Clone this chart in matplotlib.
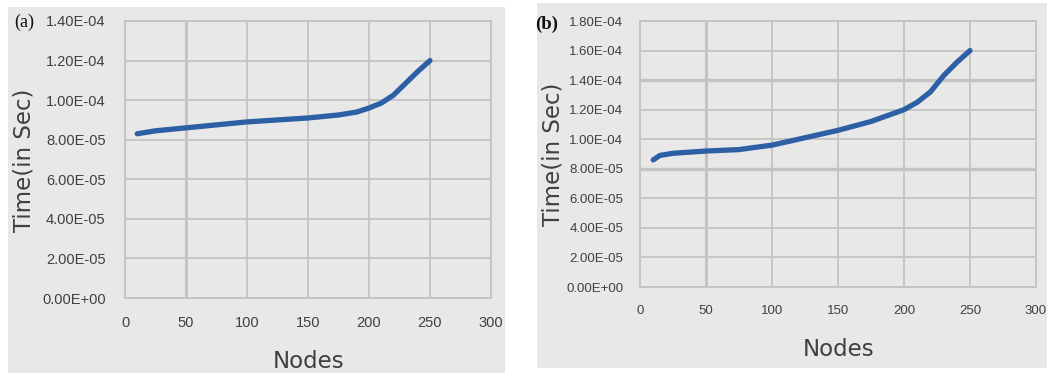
import matplotlib.pyplot as plt
from matplotlib.patches import Rectangle
from matplotlib.ticker import FuncFormatter

# panel (a)
nodes_a = [10, 25, 50, 75, 100, 125, 150, 175, 190, 200, 210, 220, 230, 240, 250]
time_a = [8.30e-05, 8.45e-05, 8.60e-05, 8.75e-05, 8.90e-05, 9.00e-05, 9.10e-05, 9.25e-05,
          9.40e-05, 9.60e-05, 9.85e-05, 1.025e-04, 1.085e-04, 1.145e-04, 1.20e-04]

# panel (b)
nodes_b = [10, 15, 25, 50, 75, 100, 125, 150, 175, 200, 210, 220, 230, 240, 250]
time_b = [8.60e-05, 8.90e-05, 9.05e-05, 9.20e-05, 9.30e-05, 9.60e-05, 1.01e-04, 1.06e-04,
          1.12e-04, 1.20e-04, 1.25e-04, 1.32e-04, 1.43e-04, 1.52e-04, 1.60e-04]

x_ticks = [0, 50, 100, 150, 200, 250, 300]
y_ticks_a = [0, 2e-05, 4e-05, 6e-05, 8e-05, 1.0e-04, 1.2e-04, 1.4e-04]
y_ticks_b = [0, 2e-05, 4e-05, 6e-05, 8e-05, 1.0e-04, 1.2e-04, 1.4e-04, 1.6e-04, 1.8e-04]

BG = '#e8e8e8'
GRID = '#c3c3c3'
LINE = '#2d5fa4'
TXT = '#404040'

fig = plt.figure(figsize=(10.47, 3.76), dpi=100)
W, H = 1047, 376

def px_rect(x0, y0, x1, y1):
    return [x0 / W, 1 - y1 / H, (x1 - x0) / W, (y1 - y0) / H]

# grey panel backgrounds
for r in (px_rect(8, 7, 505, 373), px_rect(537, 3, 1047, 368)):
    fig.add_artist(Rectangle((r[0], r[1]), r[2], r[3], transform=fig.transFigure,
                             facecolor=BG, edgecolor='none', zorder=-5))

fmt = FuncFormatter(lambda v, p: f"{v:.2E}")

def setup(ax, nodes, times, yticks, size, ypad, xpad):
    ax.set_facecolor(BG)
    ax.plot(nodes, times, color=LINE, linewidth=3.8, solid_capstyle='round', zorder=3)
    ax.set_xlim(0, 300)
    ax.set_ylim(yticks[0], yticks[-1])
    ax.set_xticks(x_ticks)
    ax.set_yticks(yticks)
    ax.yaxis.set_major_formatter(fmt)
    ax.grid(True, color=GRID, linewidth=1.3)
    ax.tick_params(length=0, colors=TXT, labelsize=size)
    ax.tick_params(axis='y', pad=ypad)
    ax.tick_params(axis='x', pad=xpad)
    for lab in ax.get_xticklabels() + ax.get_yticklabels():
        lab.set_fontfamily('Liberation Sans')
    for s in ax.spines.values():
        s.set_color(GRID)
        s.set_linewidth(1.3)

ax1 = fig.add_axes(px_rect(125, 21, 491, 298))
setup(ax1, nodes_a, time_a, y_ticks_a, 10.5, 14, 13)
ax1.get_xgridlines()[1].set_linewidth(2.2)

ax2 = fig.add_axes(px_rect(640, 21, 1036, 287))
setup(ax2, nodes_b, time_b, y_ticks_b, 9.5, 12, 13)
ax2.get_xgridlines()[1].set_linewidth(2.2)
ax2.get_ygridlines()[4].set_linewidth(2.4)
ax2.get_ygridlines()[7].set_linewidth(2.4)

# labels
lab_kw = dict(color=TXT, fontsize=16.5, family='DejaVu Sans', ha='center', va='center')
fig.text(24 / W, 1 - 160 / H, 'Time(in Sec)', rotation=90, **lab_kw)
fig.text(309 / W, 1 - 361 / H, 'Nodes', **lab_kw)
fig.text(553 / W, 1 - 154 / H, 'Time(in Sec)', rotation=90, **lab_kw)
fig.text(839 / W, 1 - 349 / H, 'Nodes', **lab_kw)

fig.text(24 / W, 1 - 22 / H, '(a)', family='Liberation Serif', fontsize=13,
         ha='center', va='center', color='#111111')
fig.text(547 / W, 1 - 24 / H, '(b)', family='Liberation Serif', fontsize=13.5,
         ha='center', va='center', color='#111111', fontweight='bold')

fig.savefig('out.png', dpi=100, facecolor='white')
